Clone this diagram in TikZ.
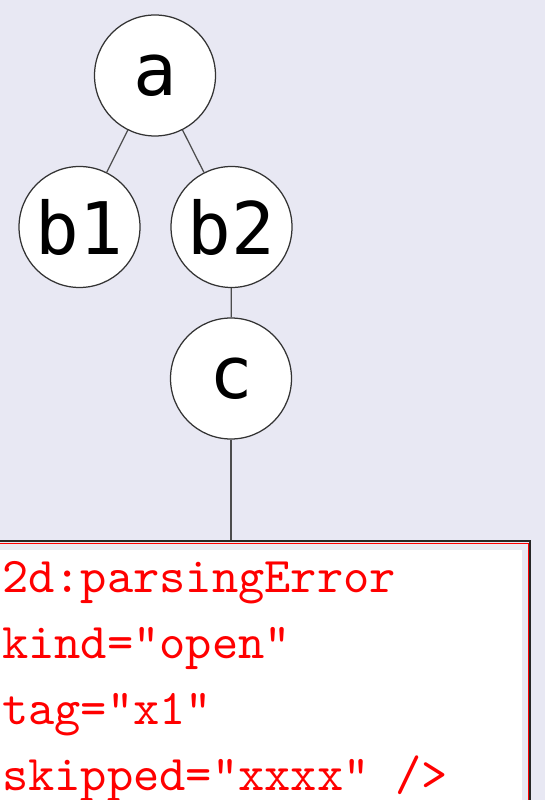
\documentclass[tikz,border=0pt]{standalone}
\usepackage{fontspec}
\newfontfamily\nodefont{DejaVu Sans Mono}
\definecolor{bgcol}{RGB}{232,232,243}

\begin{document}
\begin{tikzpicture}[x = 1pt, y = 1pt, main/.style = {draw = black!80, line width = 0.25pt, circle, fill = white, minimum size = 24.2pt, inner sep = 0pt, font = \nodefont\fontsize{14.5}{17}\selectfont}, edge/.style = {draw = black!70, line width = 0.25pt}]
	\useasboundingbox (0,0) rectangle (109,-160);
	\clip (0,0) rectangle (109,-160);
	\fill[bgcol] (0,0) rectangle (109,-160);
	\node[main] (a) at (31,-15.1) {a};
	\node[main] (b1) at (15.9,-45.4) {b1};
	\node[main] (b2) at (46.3,-45.4) {b2};
	\node[main] (c) at (46.2,-75.7) {c};
	\coordinate (errtop) at (46.2,-108.2);
	\draw[edge] (a) -- (b1);
	\draw[edge] (a) -- (b2);
	\draw[edge] (b2) -- (c);
	\draw[edge] (c) -- (errtop);
	\draw[black!85, line width = 0.4pt] (-20,-170) rectangle (106,-108.2);
	\draw[red, line width = 0.2pt] (-20,-170) rectangle (105.6,-108.6);
	\fill[white] (-20,-170) rectangle (104.4,-110);
	\node[anchor = base west, inner sep = 0pt, align = left, text = red, font = \ttfamily\fontsize{10}{13.2}\selectfont] (err) at (-10.3,-158) {<l2d:parsingError\\\phantom{<l}kind="open"\\\phantom{<l}tag="x1"\\\phantom{<l}skipped="xxxx" />};
\end{tikzpicture}
\end{document}
